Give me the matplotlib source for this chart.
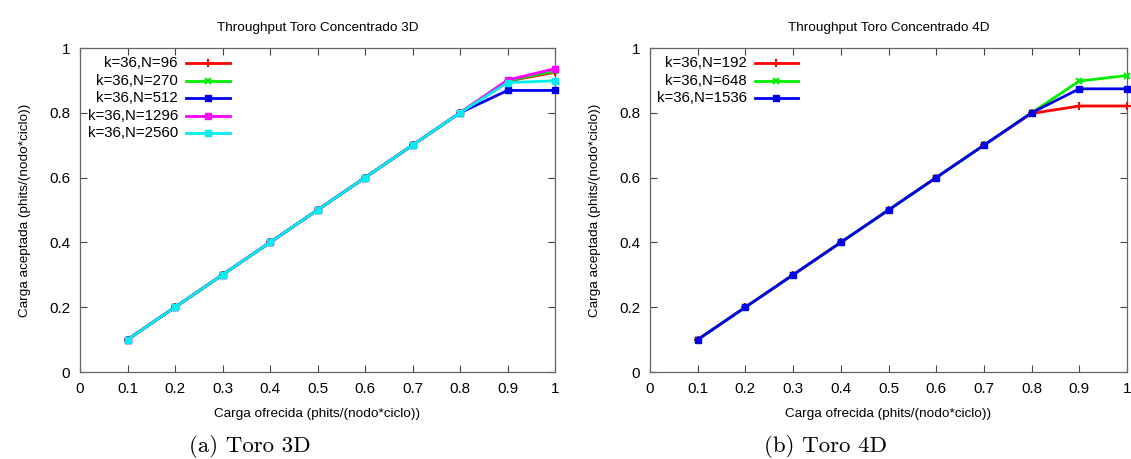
import matplotlib
matplotlib.use("Agg")
import matplotlib.pyplot as plt
from matplotlib.lines import Line2D

plt.rcParams['font.family'] = ['Liberation Sans', 'DejaVu Sans']
plt.rcParams['mathtext.fontset'] = 'cm'

# Offered load (x) for every series
offered = [0.1, 0.2, 0.3, 0.4, 0.5, 0.6, 0.7, 0.8, 0.9, 1.0]

# 3D torus, accepted load
labels_3d = ["k=36,N=96", "k=36,N=270", "k=36,N=512", "k=36,N=1296", "k=36,N=2560"]
n96 = [0.1, 0.2, 0.3, 0.4, 0.5, 0.6, 0.7, 0.8, 0.898, 0.925]
n270 = [0.1, 0.2, 0.3, 0.4, 0.5, 0.6, 0.7, 0.8, 0.899, 0.929]
n512 = [0.1, 0.2, 0.3, 0.4, 0.5, 0.6, 0.7, 0.8, 0.869, 0.869]
n1296 = [0.1, 0.2, 0.3, 0.4, 0.5, 0.6, 0.7, 0.8, 0.901, 0.936]
n2560 = [0.1, 0.2, 0.3, 0.4, 0.5, 0.6, 0.7, 0.8, 0.893, 0.899]

# 4D torus, accepted load
labels_4d = ["k=36,N=192", "k=36,N=648", "k=36,N=1536"]
n192 = [0.1, 0.2, 0.3, 0.4, 0.5, 0.6, 0.7, 0.798, 0.821, 0.821]
n648 = [0.1, 0.2, 0.3, 0.4, 0.5, 0.6, 0.7, 0.8, 0.898, 0.915]
n1536 = [0.1, 0.2, 0.3, 0.4, 0.5, 0.6, 0.7, 0.8, 0.874, 0.874]

ticks = [0, 0.1, 0.2, 0.3, 0.4, 0.5, 0.6, 0.7, 0.8, 0.9, 1]
tick_labels = ["0", "0.1", "0.2", "0.3", "0.4", "0.5", "0.6", "0.7", "0.8", "0.9", "1"]
yticks = [0, 0.2, 0.4, 0.6, 0.8, 1]
ytick_labels = ["0", "0.2", "0.4", "0.6", "0.8", "1"]

styles = [
    dict(color="#ff0000", marker="+", ms=6, mew=1.5),
    dict(color="#00ee00", marker="x", ms=5, mew=1.5),
    dict(color="#0000ee", marker="s", ms=5, mew=1),
    dict(color="#ff00ff", marker="s", ms=5, mew=1),
    dict(color="#00eeee", marker="s", ms=5, mew=1),
]

fig = plt.figure(figsize=(11.31, 4.59), dpi=100)
ax1 = fig.add_axes([80 / 1131, 1 - 372 / 459, 475 / 1131, 324 / 459])
ax2 = fig.add_axes([650 / 1131, 1 - 372 / 459, 477 / 1131, 324 / 459])


def setup(ax, title):
    ax.set_xlim(0, 1)
    ax.set_ylim(0, 1)
    ax.set_xticks(ticks)
    ax.set_xticklabels(tick_labels)
    ax.set_yticks(yticks)
    ax.set_yticklabels(ytick_labels)
    ax.tick_params(direction="in", length=5, width=0.8, color="#444444",
                   labelsize=11, top=True, right=True, pad=7)
    for s in ax.spines.values():
        s.set_color("#666666")
        s.set_linewidth(0.9)
    ax.set_title(title, fontsize=9.7, pad=12)
    ax.set_xlabel("Carga ofrecida (phits/(nodo*ciclo))", fontsize=9.7, labelpad=8.5)
    ax.set_ylabel("Carga aceptada (phits/(nodo*ciclo))", fontsize=9.7, labelpad=13)


def draw(ax, series, labels, text_x, line_x0, line_x1):
    for i, (ys, lab) in enumerate(zip(series, labels)):
        st = styles[i]
        ax.plot(offered, ys, color=st["color"], marker=st["marker"], ms=st["ms"],
                mew=st["mew"], lw=2, clip_on=False, zorder=3 + i)
        yk = 0.953 - i * 0.054
        ax.text(text_x, yk, lab, transform=ax.transAxes, ha="right", va="center",
                fontsize=10.8)
        ax.add_line(Line2D([line_x0, line_x1], [yk, yk], transform=ax.transAxes,
                           color=st["color"], lw=2))
        ax.add_line(Line2D([(line_x0 + line_x1) / 2], [yk], transform=ax.transAxes,
                           color=st["color"], marker=st["marker"], ms=st["ms"],
                           mew=st["mew"]))


setup(ax1, "Throughput Toro Concentrado 3D")
draw(ax1, [n96, n270, n512, n1296, n2560], labels_3d, 0.206, 0.224, 0.316)
setup(ax2, "Throughput Toro Concentrado 4D")
draw(ax2, [n192, n648, n1536], labels_4d, 0.203, 0.220, 0.310)

fig.text(250 / 1131, 1 - 446 / 459, "(a) Toro 3D", ha="center", va="center",
         fontsize=16.5, family="cmr10")
fig.text(825 / 1131, 1 - 446 / 459, "(b) Toro 4D", ha="center", va="center",
         fontsize=16.5, family="cmr10")

fig.savefig("out.png", dpi=100)
